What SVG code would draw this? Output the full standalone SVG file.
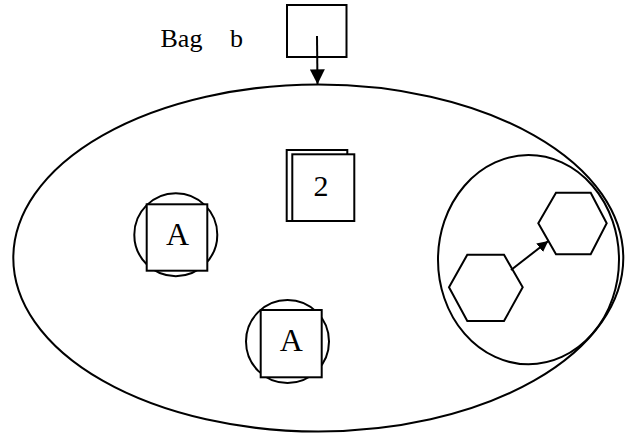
<svg xmlns="http://www.w3.org/2000/svg" width="626" height="433" viewBox="0 0 626 433">
<style>
.s{fill:#fff;stroke:#000;stroke-width:2}
.n{fill:none;stroke:#000;stroke-width:2}
.t{font-family:"Liberation Serif","Times New Roman",serif;fill:#000}
</style>
<defs>
<marker id="ah" viewBox="0 0 10 10" refX="10" refY="5" markerWidth="7.5" markerHeight="7.5" markerUnits="userSpaceOnUse" orient="auto">
<path d="M0,0 L10,5 L0,10 z" fill="#000"/>
</marker>
<marker id="ab" viewBox="0 0 10 10" refX="10" refY="5" markerWidth="15" markerHeight="15" markerUnits="userSpaceOnUse" orient="auto">
<path d="M0,0 L10,5 L0,10 z" fill="#000"/>
</marker>
<marker id="as" viewBox="0 0 10 10" refX="10" refY="5" markerWidth="11" markerHeight="11" markerUnits="userSpaceOnUse" orient="auto">
<path d="M0,0 L10,5 L0,10 z" fill="#000"/>
</marker>
</defs>
<g id="label-bag">
<text class="t" x="160.5" y="46.7" font-size="26">Bag<tspan x="230">b</tspan></text>
</g>
<g id="bag">
<ellipse class="n" cx="318.3" cy="258" rx="305" ry="173.5"/>
</g>
<g id="input-box">
<rect class="n" x="287" y="5" width="59.5" height="52"/>
</g>
<g id="stack-2">
<rect class="s" x="286.7" y="150" width="60.6" height="71"/>
<rect class="s" x="292.3" y="154.3" width="62" height="66.7"/>
<text class="t" x="321" y="196" font-size="30" text-anchor="middle">2</text>
</g>
<g id="a1">
<circle class="n" cx="175.8" cy="234.7" r="41.5"/>
<rect class="s" x="146.7" y="204.3" width="60.6" height="66.4"/>
<text class="t" x="177.5" y="245" font-size="32" text-anchor="middle">A</text>
</g>
<g id="a2">
<circle class="n" cx="287.5" cy="341.5" r="41.5"/>
<rect class="s" x="260.7" y="310" width="61" height="67.3"/>
<text class="t" x="291.2" y="351" font-size="32" text-anchor="middle">A</text>
</g>
<g id="sub-bag">
<ellipse class="n" cx="528.5" cy="259.7" rx="90.5" ry="104.6"/>
</g>
<g id="hex-upper">
<polygon class="n" points="538.3,223.3 556,192.7 590.7,192.7 606.7,223.3 590.7,254.3 556,254.3"/>
</g>
<g id="hex-lower">
<polygon class="n" points="449,287.3 467.3,254.7 504,254.7 522.7,287.3 504,321 467.3,321"/>
</g>
<g id="connectors">
<line class="n" x1="317" y1="36" x2="317.5" y2="84.3" marker-end="url(#ab)"/>
<line class="n" x1="511" y1="270" x2="548.3" y2="241" marker-end="url(#as)"/>
</g>
</svg>
